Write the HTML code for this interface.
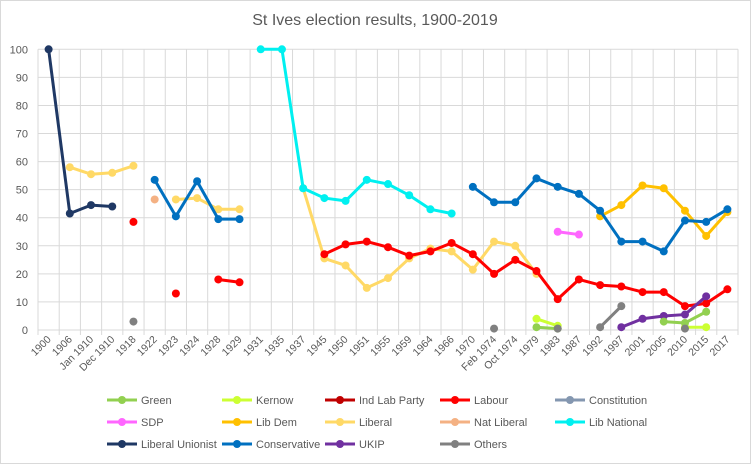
<!DOCTYPE html>
<html><head><meta charset="utf-8"><style>
body{margin:0;background:#fff}
svg{display:block;font-family:"Liberation Sans",sans-serif}
</style></head><body>
<svg id="s" width="751" height="464" xmlns="http://www.w3.org/2000/svg">
<rect x="0.5" y="0.5" width="750" height="463" fill="#fff" stroke="#d9d9d9"/>
<text x="375" y="25" font-size="16" fill="#595959" text-anchor="middle">St Ives election results, 1900-2019</text>
</svg>
<script>
const s=document.getElementById('s');const NS='http://www.w3.org/2000/svg';
function el(t,a,txt){const e=document.createElementNS(NS,t);for(const k in a)e.setAttribute(k,a[k]);if(txt!==undefined)e.textContent=txt;s.appendChild(e);return e;}
const cats=["1900","1906","Jan 1910","Dec 1910","1918","1922","1923","1924","1928","1929","1931","1935","1937","1945","1950","1951","1955","1959","1964","1966","1970","Feb 1974","Oct 1974","1979","1983","1987","1992","1997","2001","2005","2010","2015","2017"];
const L=38,W=700,T=49.3,B=330,n=cats.length,dx=W/n;
const X=i=>L+dx*(i+0.5),Y=v=>B-(B-T)*v/100;
for(let v=0;v<=100;v+=10){el('line',{x1:L,x2:L+W,y1:Y(v),y2:Y(v),stroke:'#d9d9d9'});el('text',{x:28,y:Y(v)+4,'font-size':11,fill:'#595959','text-anchor':'end'},v);}
for(let i=0;i<=n;i++)el('line',{x1:L+dx*i,x2:L+dx*i,y1:T,y2:B+5,stroke:'#d9d9d9'});
cats.forEach((c,i)=>{const x=X(i)+3,y=B+10;el('text',{x:x,y:y,'font-size':10.5,fill:'#595959','text-anchor':'end',transform:`rotate(-45 ${x} ${y})`},c);});
const I=c=>cats.indexOf(c);
const series=[
['#1f3864',[[["1900",100],["1906",41.5],["Jan 1910",44.5],["Dec 1910",44]]]],
['#ffd966',[[["1906",58],["Jan 1910",55.5],["Dec 1910",56],["1918",58.5]],[["1923",46.5],["1924",47],["1928",43],["1929",43]],[["1937",50.5],["1945",25.5],["1950",23],["1951",15],["1955",18.5],["1959",25.5],["1964",29],["1966",28],["1970",21.5],["Feb 1974",31.5],["Oct 1974",30],["1979",20]]]],
['#f4b183',[[["1922",46.5]]]],
['#ff0000',[[["1918",38.5]],[["1923",13]],[["1928",18],["1929",17]],[["1945",27],["1950",30.5],["1951",31.5],["1955",29.5],["1959",26.5],["1964",28],["1966",31],["1970",27],["Feb 1974",20],["Oct 1974",25],["1979",21],["1983",11],["1987",18],["1992",16],["1997",15.5],["2001",13.5],["2005",13.5],["2010",8.5],["2015",9.5],["2017",14.5]]]],
['#00f0f0',[[["1931",100],["1935",100],["1937",50.5],["1945",47],["1950",46],["1951",53.5],["1955",52],["1959",48],["1964",43],["1966",41.5]]]],
['#ffc000',[[["1992",40.5],["1997",44.5],["2001",51.5],["2005",50.5],["2010",42.5],["2015",33.5],["2017",42]]]],
['#0070c0',[[["1922",53.5],["1923",40.5],["1924",53],["1928",39.5],["1929",39.5]],[["1970",51],["Feb 1974",45.5],["Oct 1974",45.5],["1979",54],["1983",51],["1987",48.5],["1992",42.5],["1997",31.5],["2001",31.5],["2005",28],["2010",39],["2015",38.5],["2017",43]]]],
['#ff66ff',[[["1983",35],["1987",34]]]],
['#7030a0',[[["1997",1],["2001",4],["2005",5],["2010",5.5],["2015",12]]]],
['#ccff33',[[["1979",4],["1983",1.5]],[["2010",1],["2015",1]]]],
['#92d050',[[["1979",1],["1983",0.5]],[["2005",3],["2010",2.5],["2015",6.5]]]],
['#808080',[[["1918",3]],[["Feb 1974",0.5]],[["1983",0.5]],[["1992",1],["1997",8.5]],[["2010",0.5]]]]
];
series.forEach(([col,segs])=>segs.forEach(seg=>{const p=seg.map(([c,v])=>[X(I(c)),Y(v)]);
if(p.length>1)el('polyline',{points:p.map(q=>q.join(',')).join(' '),fill:'none',stroke:col,'stroke-width':3,'stroke-linejoin':'round'});
p.forEach(q=>el('circle',{cx:q[0],cy:q[1],r:4,fill:col}));}));
const leg=[["Green","#92d050"],["Kernow","#ccff33"],["Ind Lab Party","#c00000"],["Labour","#ff0000"],["Constitution","#8497b0"],
["SDP","#ff66ff"],["Lib Dem","#ffc000"],["Liberal","#ffd966"],["Nat Liberal","#f4b183"],["Lib National","#00f0f0"],
["Liberal Unionist","#1f3864"],["Conservative","#0070c0"],["UKIP","#7030a0"],["Others","#808080"]];
const cx=[107,222,325,440,555];
leg.forEach(([t,c],k)=>{const r=Math.floor(k/5),col=k%5,x=cx[col],y=400+r*22;
el('line',{x1:x,x2:x+30,y1:y,y2:y,stroke:c,'stroke-width':3});el('circle',{cx:x+15,cy:y,r:4,fill:c});
el('text',{x:x+34,y:y+4,'font-size':11,fill:'#595959'},t);});
</script>
</body></html>
